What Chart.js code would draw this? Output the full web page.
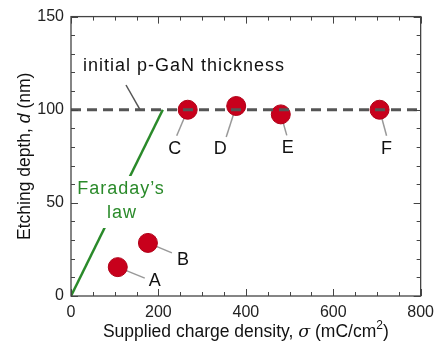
<!DOCTYPE html>
<html>
<head>
<meta charset="utf-8">
<script src="https://cdn.jsdelivr.net/npm/chart.js@4.4.1/dist/chart.umd.min.js"></script>
<style>
html, body { margin: 0; padding: 0; background: #fff; }
#wrap { width: 441px; height: 344px; }
</style>
</head>
<body>
<div id="wrap"><canvas id="grafico-etch"></canvas></div>
<script>
// Etching depth vs supplied charge, samples A-F
const sampleNames = ["A", "B", "C", "D", "E", "F"];
const chargeDensity = [107, 176, 267, 378, 480, 706];   // mC/cm2
const etchDepth = [15.5, 28.5, 100, 102, 97.5, 100];     // nm

// Faraday's law line
const faradayCharge = [0, 210];
const faradayDepth = [0, 100];

// initial p-GaN thickness
const initialThickness = 100;

const xTicks = [0, 200, 400, 600, 800];
const yTicks = [0, 50, 100, 150];
const xMinorStep = 50;
const yMinorStep = 10;

// label placement relative to each point: [labelDx, labelDy, leaderDx, leaderDy]
const labelOffsets = [
    [37, 14, 27, 11],
    [35, 17, 24, 10],
    [-13, 39, -11, 26],
    [-16, 43, -10, 31],
    [7, 34, 6, 21],
    [7, 39, 7, 26]
];

const FONT = "'Liberation Sans', Arial, sans-serif";
const GREEN = "#2a8a2a";

const decoPlugin = {
    id: "deco",
    beforeDatasetsDraw(chart) {
        const ctx = chart.ctx;
        const meta = chart.getDatasetMeta(2);
        ctx.save();
        ctx.strokeStyle = "#999";
        ctx.lineWidth = 1.5;
        meta.data.forEach((pt, i) => {
            const o = labelOffsets[i];
            ctx.beginPath();
            ctx.moveTo(pt.x, pt.y);
            ctx.lineTo(pt.x + o[2], pt.y + o[3]);
            ctx.stroke();
        });
        ctx.restore();
    },
    afterDatasetsDraw(chart) {
        const ctx = chart.ctx;
        const xs = chart.scales.x;
        const ys = chart.scales.y;
        const area = chart.chartArea;
        ctx.save();

        // Faraday's law label on white box
        ctx.fillStyle = "#fff";
        ctx.fillRect(73, 176, 97, 52);
        ctx.fillStyle = GREEN;
        ctx.font = "18px " + FONT;
        ctx.letterSpacing = "1px";
        ctx.textAlign = "center";
        ctx.textBaseline = "middle";
        ctx.fillText("Faraday\u2019s", 121, 189);
        ctx.fillText("law", 122, 213);

        // sample letters
        ctx.letterSpacing = "0px";
        ctx.fillStyle = "#111";
        ctx.font = "18px " + FONT;
        chart.getDatasetMeta(2).data.forEach((pt, i) => {
            const o = labelOffsets[i];
            ctx.fillText(sampleNames[i], pt.x + o[0], pt.y + o[1]);
        });

        // thickness annotation
        ctx.textAlign = "left";
        ctx.font = "18px " + FONT;
        ctx.letterSpacing = "1px";
        ctx.fillText("initial p-GaN thickness", 83, 66);
        ctx.letterSpacing = "0px";
        ctx.strokeStyle = "#555";
        ctx.lineWidth = 1.5;
        ctx.beginPath();
        ctx.moveTo(126, 85);
        ctx.lineTo(140, ys.getPixelForValue(initialThickness));
        ctx.stroke();

        // frame
        ctx.strokeStyle = "#444";
        ctx.lineWidth = 1.3;
        ctx.strokeRect(area.left, area.top, area.right - area.left, area.bottom - area.top);

        // inside ticks on all four sides
        ctx.lineWidth = 1;
        ctx.beginPath();
        for (let v = xs.min; v <= xs.max; v += xMinorStep) {
            const px = Math.round(xs.getPixelForValue(v)) + 0.5;
            const len = v % 200 === 0 ? 7 : 4;
            ctx.moveTo(px, area.bottom); ctx.lineTo(px, area.bottom - len);
            ctx.moveTo(px, area.top); ctx.lineTo(px, area.top + len);
        }
        for (let v = ys.min; v <= ys.max; v += yMinorStep) {
            const py = Math.round(ys.getPixelForValue(v)) + 0.5;
            const len = v % 50 === 0 ? 7 : 4;
            ctx.moveTo(area.left, py); ctx.lineTo(area.left + len, py);
            ctx.moveTo(area.right, py); ctx.lineTo(area.right - len, py);
        }
        ctx.stroke();

        // axis titles
        ctx.fillStyle = "#111";
        ctx.textBaseline = "alphabetic";
        const cx = (area.left + area.right) / 2;
        const parts = [
            ["Supplied charge density, ", "17.5px " + FONT, 0],
            ["\u03c3", "italic 17.5px 'DejaVu Serif', serif", 0],
            [" (mC/cm", "17.5px " + FONT, 0],
            ["2", "12px " + FONT, -8],
            [")", "17.5px " + FONT, 0]
        ];
        let total = 0;
        parts.forEach(p => { ctx.font = p[1]; total += ctx.measureText(p[0]).width; });
        let x = cx - total / 2;
        parts.forEach(p => {
            ctx.font = p[1];
            ctx.fillText(p[0], x, 337 + p[2]);
            x += ctx.measureText(p[0]).width;
        });

        const cy = (area.top + area.bottom) / 2;
        ctx.translate(30, cy);
        ctx.rotate(-Math.PI / 2);
        const yparts = [
            ["Etching depth, ", "17.5px " + FONT],
            ["d", "italic 17.5px " + FONT],
            [" (nm)", "17.5px " + FONT]
        ];
        total = 0;
        yparts.forEach(p => { ctx.font = p[1]; total += ctx.measureText(p[0]).width; });
        x = -total / 2;
        yparts.forEach(p => {
            ctx.font = p[1];
            ctx.fillText(p[0], x, 0);
            x += ctx.measureText(p[0]).width;
        });
        ctx.restore();
    }
};

new Chart(document.getElementById("grafico-etch"), {
    type: "scatter",
    data: {
        datasets: [
            {
                type: "line",
                data: [{ x: 0, y: initialThickness }, { x: 800, y: initialThickness }],
                borderColor: "#555",
                borderWidth: 3,
                borderDash: [10, 6],
                pointRadius: 0,
                fill: false
            },
            {
                type: "line",
                data: faradayCharge.map((c, i) => ({ x: c, y: faradayDepth[i] })),
                borderColor: GREEN,
                borderWidth: 2.5,
                pointRadius: 0,
                fill: false
            },
            {
                data: chargeDensity.map((c, i) => ({ x: c, y: etchDepth[i] })),
                backgroundColor: "#c8001c",
                borderColor: "#b00018",
                borderWidth: 1,
                pointRadius: 9.5
            }
        ]
    },
    options: {
        responsive: true,
        maintainAspectRatio: false,
        animation: false,
        layout: { padding: { top: 16, right: 20, left: 0, bottom: 0 } },
        plugins: {
            legend: { display: false },
            tooltip: { enabled: false }
        },
        scales: {
            x: {
                type: "linear",
                min: 0,
                max: 800,
                afterBuildTicks: s => { s.ticks = xTicks.map(v => ({ value: v })); },
                afterFit: s => { s.height = 48; },
                grid: { display: false, drawTicks: false },
                border: { display: false },
                ticks: {
                    padding: 7,
                    color: "#222",
                    font: { family: FONT, size: 16 },
                    maxRotation: 0
                }
            },
            y: {
                type: "linear",
                min: 0,
                max: 150,
                afterBuildTicks: s => { s.ticks = yTicks.map(v => ({ value: v })); },
                afterFit: s => { s.width = 71; },
                grid: { display: false, drawTicks: false },
                border: { display: false },
                ticks: {
                    padding: 7,
                    color: "#222",
                    font: { family: FONT, size: 16 }
                }
            }
        }
    },
    plugins: [decoPlugin]
});
</script>
</body>
</html>
